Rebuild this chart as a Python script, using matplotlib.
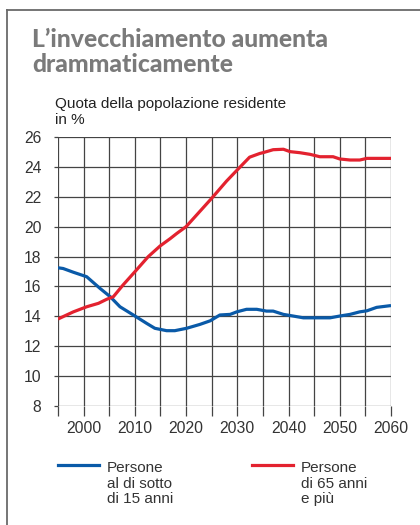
import matplotlib
matplotlib.use("Agg")
import matplotlib.pyplot as plt
from matplotlib.lines import Line2D

title_lines = ["L\u2019invecchiamento aumenta", "drammaticamente"]
subtitle_lines = ["Quota della popolazione residente", "in %"]

years_u15 = [1995, 1996, 1998, 2000.6, 2003.2, 2005.2, 2007.1, 2009.7, 2012.3, 2013.9, 2016.2,
             2017.8, 2020.1, 2022.7, 2024.7, 2026.6, 2028.6, 2029.9, 2031.8, 2033.8, 2035.7,
             2037, 2039, 2040.9, 2042.9, 2045.5, 2048.1, 2050, 2052, 2053.9, 2055.3, 2057.2, 2060]
vals_u15 = [17.25, 17.2, 16.95, 16.65, 15.87, 15.31, 14.64, 14.09, 13.53, 13.2, 13.04,
            13.04, 13.2, 13.46, 13.7, 14.09, 14.13, 14.3, 14.47, 14.47, 14.35,
            14.35, 14.13, 14.02, 13.9, 13.9, 13.9, 14.02, 14.13, 14.3, 14.37, 14.6, 14.72]

years_65 = [1995, 1998, 2000.6, 2002.9, 2004.5, 2005.8, 2007.7, 2010, 2012.6, 2014.9, 2016.9,
            2018.2, 2020, 2022.5, 2025, 2027.9, 2030, 2032.4, 2034.4, 2035, 2037, 2039, 2040.3,
            2042.2, 2044.2, 2046.1, 2048.7, 2050, 2052, 2053.9, 2055.3, 2057.9, 2060]
vals_65 = [13.82, 14.3, 14.64, 14.87, 15.14, 15.31, 16.1, 16.98, 17.99, 18.7, 19.2,
           19.55, 20.0, 20.95, 21.9, 23.05, 23.8, 24.65, 24.9, 24.95, 25.15, 25.18, 25.02,
           24.95, 24.84, 24.68, 24.68, 24.53, 24.46, 24.46, 24.57, 24.57, 24.57]

xticks = list(range(1995, 2061, 5))
xlabels = ["" if y % 10 else str(y) for y in xticks]
yticks = list(range(8, 27, 2))

label_u15 = ["Persone", "al di sotto", "di 15 anni"]
label_65 = ["Persone", "di 65 anni", "e più"]

BLUE = "#0a5aa8"
RED = "#e3222f"
FONT = "Liberation Sans"
W, H = 420, 525

fig = plt.figure(figsize=(4.2, 5.25), dpi=100)
ax = fig.add_axes([58 / W, 1 - 406 / H, (391 - 58) / W, (406 - 137) / H])

ax.plot(years_u15, vals_u15, color=BLUE, lw=2.3, solid_capstyle="butt", zorder=3)
ax.plot(years_65, vals_65, color=RED, lw=2.3, solid_capstyle="butt", zorder=3)

ax.set_xlim(1995, 2060)
ax.set_ylim(8, 26)
ax.set_xticks(xticks)
ax.set_xticklabels(xlabels)
ax.set_yticks(yticks)
ax.grid(True, color="#444444", lw=0.9)
for s in ax.spines.values():
    s.set_visible(False)
ax.tick_params(axis="x", length=7, width=0.9, color="#444444", pad=4, labelsize=11.3,
               labelcolor="#333333")
ax.tick_params(axis="y", length=3, width=0.9, color="#444444", pad=9, labelsize=11.3,
               labelcolor="#333333")
for lab in ax.get_xticklabels() + ax.get_yticklabels():
    lab.set_fontfamily(FONT)

for i, t in enumerate(title_lines):
    fig.text(32 / W, 1 - (47 + 25 * i) / H, t, ha="left", va="baseline", fontsize=17.8,
             fontweight="black", color="#7a7a7a", family="Lato")
for i, t in enumerate(subtitle_lines):
    fig.text(55 / W, 1 - (108 + 15.5 * i) / H, t, ha="left", va="baseline", fontsize=11,
             color="#222222", family=FONT)

# legend
fig.add_artist(Line2D([58 / W, 99 / W], [1 - 465 / H] * 2, color=BLUE, lw=2.3))
fig.add_artist(Line2D([252 / W, 293 / W], [1 - 465 / H] * 2, color=RED, lw=2.3))
for i, t in enumerate(label_u15):
    fig.text(107 / W, 1 - (472 + 15.5 * i) / H, t, ha="left", va="baseline", fontsize=11,
             color="#333333", family=FONT)
for i, t in enumerate(label_65):
    fig.text(301 / W, 1 - (472 + 15.5 * i) / H, t, ha="left", va="baseline", fontsize=11,
             color="#333333", family=FONT)

# frame
fig.add_artist(Line2D([7 / W, 7 / W], [0, 1 - 10 / H], color="#6a6a6a", lw=1.3))
fig.add_artist(Line2D([7 / W, 1], [1 - 10 / H] * 2, color="#6a6a6a", lw=1.3))

fig.savefig("out.png", dpi=100)
